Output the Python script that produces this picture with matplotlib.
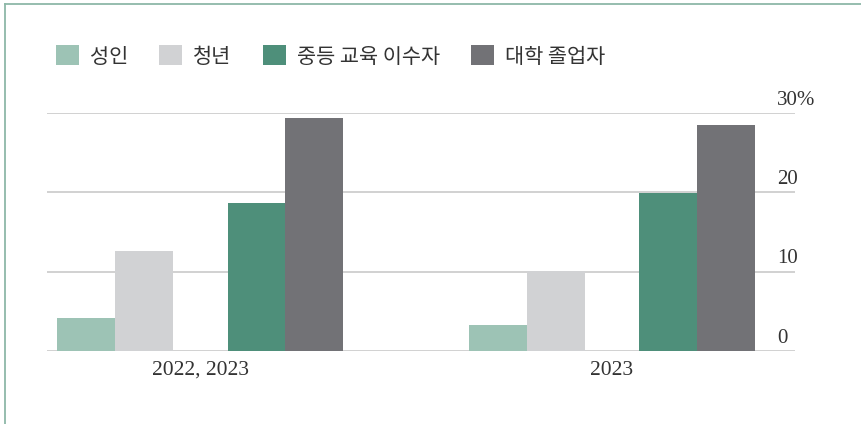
import matplotlib
matplotlib.use("Agg")
import matplotlib.pyplot as plt
from matplotlib.patches import Patch
from matplotlib.lines import Line2D
import numpy as np

categories = ["2022, 2023", "2023"]
series_names = ["성인", "청년", "중등 교육 이수자", "대학 졸업자"]
adults = [4.2, 3.3]
youth = [12.6, 10.1]
secondary = [18.7, 19.9]
university = [29.4, 28.5]
yticks = [0, 10, 20, 30]
ytick_labels = ["0", "10", "20", "30%"]

colors = ["#9dc3b5", "#d1d2d4", "#4e8f7a", "#727276"]
values = [adults, youth, secondary, university]
offsets = [-0.277, -0.137, 0.137, 0.277]
width = 0.141

W, H = 862, 424
fig = plt.figure(figsize=(W / 100, H / 100), dpi=100)
ax = fig.add_axes([47 / W, 1 - 351 / H, (795 - 47) / W, (351 - 113) / H])

x = np.arange(len(categories))
for vals, off, c in zip(values, offsets, colors):
    ax.bar(x + off, vals, width=width, color=c, zorder=3, linewidth=0)

ax.set_xlim(-0.373, 1.445)
ax.set_ylim(0, 30)
for yv in yticks:
    ax.axhline(yv, color="#c9c9c9", lw=1.2, zorder=1)

serif = ["Liberation Serif", "DejaVu Serif"]
for yv, lab in zip(yticks, ytick_labels):
    ax.annotate(lab, xy=((777 - 47) / 748, yv), xycoords=("axes fraction", "data"),
                xytext=(0, 6), textcoords="offset points", ha="left", va="baseline",
                fontsize=15, family=serif, color="#333333")

ax.set_xticks(x)
ax.set_xticklabels(categories, family=serif, fontsize=15.5, color="#333333")
ax.tick_params(axis="x", length=0, pad=7)
ax.set_yticks([])
for s in ax.spines.values():
    s.set_visible(False)

handles = [Patch(facecolor=c, edgecolor="none") for c in colors]
leg = fig.legend(handles, series_names, loc="center left", bbox_to_anchor=(56 / W, 1 - 56.5 / H),
                 ncol=4, frameon=False, prop={"family": ["Noto Sans CJK KR", "DejaVu Sans"], "size": 15},
                 handlelength=1.1, handleheight=1.1, handletextpad=0.53, columnspacing=1.5,
                 borderaxespad=0, borderpad=0)
for t in leg.get_texts():
    t.set_color("#333333")

border = "#8db8a8"
fig.add_artist(Line2D([5.5 / W, 5.5 / W], [0, 1 - 3.5 / H], color=border, lw=1.3, transform=fig.transFigure))
fig.add_artist(Line2D([5.5 / W, 1], [1 - 3.5 / H, 1 - 3.5 / H], color=border, lw=1.3, transform=fig.transFigure))

fig.savefig("out.png", dpi=100)
